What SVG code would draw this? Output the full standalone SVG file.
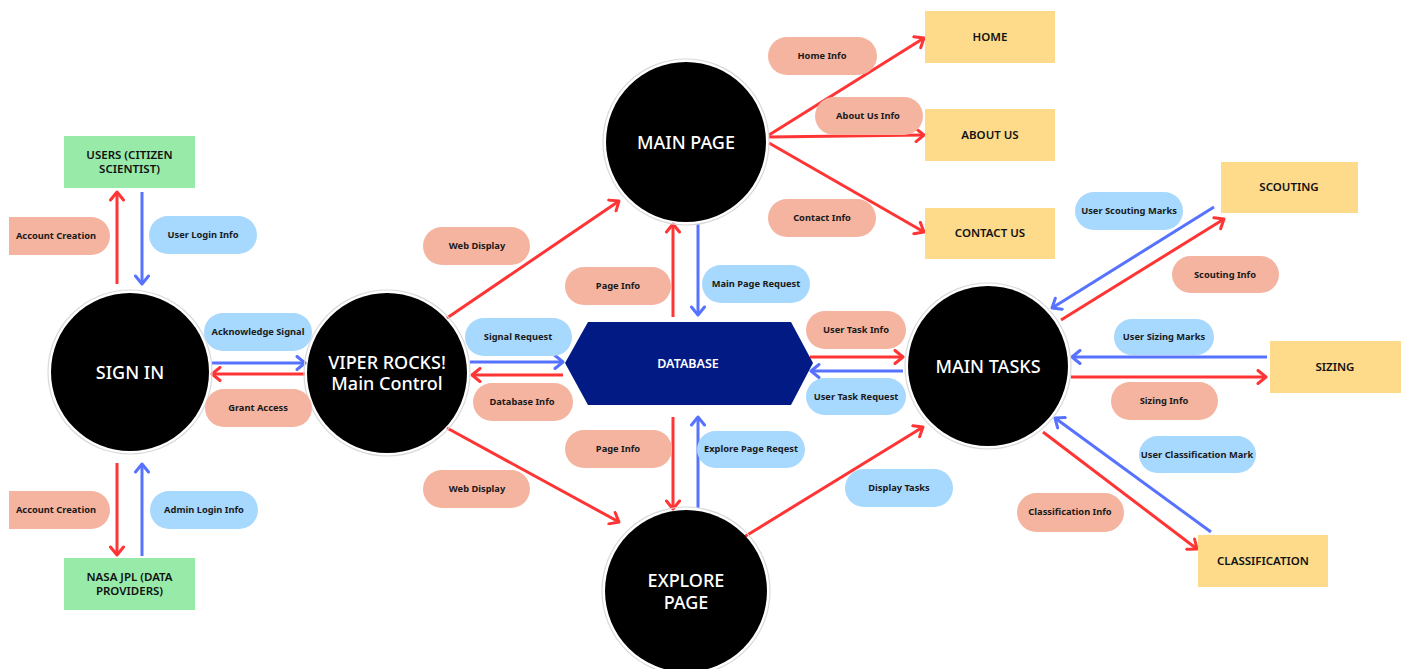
<svg xmlns="http://www.w3.org/2000/svg" width="1405" height="669" viewBox="0 0 1405 669">
<style>
.bg{fill:#ffffff}
.circ{fill:#000000}
.ring{fill:none;stroke:#d9d9d9;stroke-width:1.2}
.ctext{font-family:"Noto Sans","Open Sans",sans-serif;font-size:18px;font-weight:500;fill:#ffffff;text-anchor:middle}
.green{fill:#98eaa8}
.yellow{fill:#fedb8b}
.rtext{font-family:"Noto Sans","Open Sans",sans-serif;font-size:11.5px;font-weight:600;fill:#111111;text-anchor:middle}
.salmon{fill:#f4b4a0}
.lblue{fill:#a7d8fe}
.ptext{font-family:"Noto Sans","Open Sans",sans-serif;font-size:9.3px;font-weight:700;fill:#1a1a1a;text-anchor:middle}
.red{stroke:#ff3434;stroke-width:3;fill:none;marker-end:url(#ahr)}
.blue{stroke:#5672ff;stroke-width:3;fill:none;marker-end:url(#ahb)}
.db{fill:#021a84}
.dbtext{font-family:"Noto Sans","Open Sans",sans-serif;font-size:12.5px;font-weight:600;fill:#ffffff;text-anchor:middle}
</style>
<defs>
<marker id="ahr" markerUnits="userSpaceOnUse" markerWidth="16" markerHeight="16" refX="10" refY="8" orient="auto">
<path d="M2,1.5 L10,8 L2,14.5" fill="none" stroke="#ff3434" stroke-width="3" stroke-linecap="round" stroke-linejoin="round"/>
</marker>
<marker id="ahb" markerUnits="userSpaceOnUse" markerWidth="16" markerHeight="16" refX="10" refY="8" orient="auto">
<path d="M2,1.5 L10,8 L2,14.5" fill="none" stroke="#5672ff" stroke-width="3" stroke-linecap="round" stroke-linejoin="round"/>
</marker>
<clipPath id="leftclip"><rect x="9" y="0" width="1396" height="669"/></clipPath>
</defs>
<rect class="bg" x="0" y="0" width="1405" height="669"/>

<g id="connectors">
<line class="red" x1="117" y1="284" x2="117" y2="192"/>
<line class="blue" x1="142" y1="192" x2="142" y2="284"/>
<line class="red" x1="117" y1="463" x2="117" y2="555"/>
<line class="blue" x1="142" y1="556" x2="142" y2="464"/>
<line class="blue" x1="212" y1="363" x2="305" y2="363"/>
<line class="red" x1="305" y1="374" x2="212" y2="374"/>
<line class="red" x1="447" y1="318" x2="619" y2="201"/>
<line class="red" x1="447" y1="428" x2="619" y2="522"/>
<line class="blue" x1="470" y1="362" x2="563" y2="362"/>
<line class="red" x1="563" y1="375" x2="472" y2="375"/>
<line class="red" x1="673" y1="317" x2="673" y2="224"/>
<line class="blue" x1="698" y1="224" x2="698" y2="315"/>
<line class="red" x1="673" y1="417" x2="673" y2="509"/>
<line class="blue" x1="698" y1="508" x2="698" y2="417"/>
<line class="red" x1="810" y1="357" x2="903" y2="357"/>
<line class="blue" x1="903" y1="371" x2="811" y2="371"/>
<line class="red" x1="744" y1="537" x2="923" y2="427"/>
<line class="red" x1="769" y1="135" x2="924" y2="38"/>
<line class="red" x1="769" y1="137" x2="924" y2="135"/>
<line class="red" x1="769" y1="143" x2="924" y2="232"/>
<line class="blue" x1="1214" y1="207" x2="1052" y2="308"/>
<line class="red" x1="1061" y1="320" x2="1224" y2="219"/>
<line class="blue" x1="1267" y1="357" x2="1072" y2="357"/>
<line class="red" x1="1071" y1="377" x2="1266" y2="377"/>
<line class="blue" x1="1211" y1="532" x2="1055" y2="418"/>
<line class="red" x1="1043" y1="432" x2="1197" y2="549"/>
</g>

<g id="n-signin">
<circle class="ring" cx="130" cy="372" r="82"/>
<circle class="circ" cx="130" cy="372" r="79"/>
<text class="ctext" x="130" y="378.5">SIGN IN</text>
</g>
<g id="n-viper">
<circle class="ring" cx="387" cy="373" r="83"/>
<circle class="circ" cx="387" cy="373" r="80"/>
<text class="ctext" x="387" y="368.5">VIPER ROCKS!</text>
<text class="ctext" x="387" y="390">Main Control</text>
</g>
<g id="n-mainpage">
<circle class="ring" cx="686" cy="142" r="83"/>
<circle class="circ" cx="686" cy="142" r="80"/>
<text class="ctext" x="686" y="148.5">MAIN PAGE</text>
</g>
<g id="n-explore">
<circle class="ring" cx="686" cy="591" r="84"/>
<circle class="circ" cx="686" cy="591" r="81"/>
<text class="ctext" x="686" y="586.5">EXPLORE</text>
<text class="ctext" x="686" y="608.5">PAGE</text>
</g>
<g id="n-maintasks">
<circle class="ring" cx="988" cy="366" r="83"/>
<circle class="circ" cx="988" cy="366" r="80"/>
<text class="ctext" x="988" y="372.5">MAIN TASKS</text>
</g>
<g id="n-database">
<polygon class="db" points="565,363 588,322 791,322 813,363 791,405 588,405"/>
<text class="dbtext" x="688" y="367.5">DATABASE</text>
</g>

<g id="n-users">
<rect class="green" x="64" y="136" width="131" height="52"/>
<text class="rtext" x="129.5" y="159">USERS (CITIZEN</text>
<text class="rtext" x="129.5" y="173">SCIENTIST)</text>
</g>
<g id="n-nasa">
<rect class="green" x="64" y="558" width="131" height="52"/>
<text class="rtext" x="129.5" y="581">NASA JPL (DATA</text>
<text class="rtext" x="129.5" y="595">PROVIDERS)</text>
</g>
<g id="n-home">
<rect class="yellow" x="925" y="11" width="130" height="52"/>
<text class="rtext" x="990" y="41">HOME</text>
</g>
<g id="n-aboutus">
<rect class="yellow" x="925" y="109" width="130" height="52"/>
<text class="rtext" x="990" y="139">ABOUT US</text>
</g>
<g id="n-contactus">
<rect class="yellow" x="925" y="208" width="130" height="51"/>
<text class="rtext" x="990" y="237">CONTACT US</text>
</g>
<g id="n-scouting">
<rect class="yellow" x="1221" y="162" width="137" height="51"/>
<text class="rtext" x="1289" y="191">SCOUTING</text>
</g>
<g id="n-sizing">
<rect class="yellow" x="1270" y="341" width="131" height="52"/>
<text class="rtext" x="1335" y="371">SIZING</text>
</g>
<g id="n-classification">
<rect class="yellow" x="1198" y="535" width="130" height="52"/>
<text class="rtext" x="1263" y="565">CLASSIFICATION</text>
</g>

<g id="labels">
<g id="l-acct1"><rect class="salmon" x="-10" y="217" width="120" height="38" rx="19" clip-path="url(#leftclip)"/><text class="ptext" x="56" y="239.4">Account Creation</text></g>
<g id="l-userlogin"><rect class="lblue" x="149" y="216" width="108" height="38" rx="19"/><text class="ptext" x="203" y="238.4">User Login Info</text></g>
<g id="l-ack"><rect class="lblue" x="204" y="313" width="108" height="38" rx="19"/><text class="ptext" x="258" y="335.4">Acknowledge Signal</text></g>
<g id="l-grant"><rect class="salmon" x="205" y="389" width="107" height="38" rx="19"/><text class="ptext" x="258" y="411.4">Grant Access</text></g>
<g id="l-acct2"><rect class="salmon" x="-10" y="491" width="120" height="38" rx="19" clip-path="url(#leftclip)"/><text class="ptext" x="56" y="513.4">Account Creation</text></g>
<g id="l-adminlogin"><rect class="lblue" x="150" y="491" width="108" height="38" rx="19"/><text class="ptext" x="204" y="513.4">Admin Login Info</text></g>
<g id="l-web1"><rect class="salmon" x="423" y="227" width="107" height="38" rx="19"/><text class="ptext" x="477" y="249.4">Web Display</text></g>
<g id="l-signalreq"><rect class="lblue" x="465" y="318" width="107" height="38" rx="19"/><text class="ptext" x="518" y="340.4">Signal Request</text></g>
<g id="l-dbinfo"><rect class="salmon" x="473" y="383" width="100" height="38" rx="19"/><text class="ptext" x="522" y="405.4">Database Info</text></g>
<g id="l-web2"><rect class="salmon" x="423" y="470" width="107" height="38" rx="19"/><text class="ptext" x="477" y="492.4">Web Display</text></g>
<g id="l-pageinfo1"><rect class="salmon" x="565" y="267" width="106" height="38" rx="19"/><text class="ptext" x="618" y="289.4">Page Info</text></g>
<g id="l-mainpagereq"><rect class="lblue" x="702" y="265" width="108" height="38" rx="19"/><text class="ptext" x="756" y="287.4">Main Page Request</text></g>
<g id="l-pageinfo2"><rect class="salmon" x="565" y="430" width="107" height="38" rx="19"/><text class="ptext" x="618" y="452.4">Page Info</text></g>
<g id="l-explorereq"><rect class="lblue" x="697" y="431" width="108" height="37" rx="18.5"/><text class="ptext" x="751" y="452.4">Explore Page Reqest</text></g>
<g id="l-displaytasks"><rect class="lblue" x="845" y="469" width="108" height="38" rx="19"/><text class="ptext" x="899" y="491.4">Display Tasks</text></g>
<g id="l-usertaskinfo"><rect class="salmon" x="806" y="311" width="100" height="38" rx="19"/><text class="ptext" x="856" y="333.4">User Task Info</text></g>
<g id="l-usertaskreq"><rect class="lblue" x="806" y="378" width="100" height="37" rx="18.5"/><text class="ptext" x="856" y="399.9">User Task Request</text></g>
<g id="l-homeinfo"><rect class="salmon" x="768" y="37" width="109" height="38" rx="19"/><text class="ptext" x="822" y="59.4">Home Info</text></g>
<g id="l-aboutinfo"><rect class="salmon" x="815" y="97" width="108" height="38" rx="19"/><text class="ptext" x="868" y="119.4">About Us Info</text></g>
<g id="l-contactinfo"><rect class="salmon" x="768" y="199" width="108" height="38" rx="19"/><text class="ptext" x="822" y="221.4">Contact Info</text></g>
<g id="l-scoutmarks"><rect class="lblue" x="1075" y="192" width="108" height="38" rx="19"/><text class="ptext" x="1129" y="214.4">User Scouting Marks</text></g>
<g id="l-scoutinfo"><rect class="salmon" x="1172" y="256" width="107" height="37" rx="18.5"/><text class="ptext" x="1225" y="277.9">Scouting Info</text></g>
<g id="l-sizemarks"><rect class="lblue" x="1114" y="319" width="100" height="36" rx="18"/><text class="ptext" x="1164" y="340.4">User Sizing Marks</text></g>
<g id="l-sizeinfo"><rect class="salmon" x="1111" y="382" width="107" height="38" rx="19"/><text class="ptext" x="1164" y="404.4">Sizing Info</text></g>
<g id="l-classmark"><rect class="lblue" x="1139" y="436" width="117" height="37" rx="18.5"/><text class="ptext" x="1197" y="457.9">User Classification Mark</text></g>
<g id="l-classinfo"><rect class="salmon" x="1017" y="493" width="107" height="39" rx="19.5"/><text class="ptext" x="1070" y="515.4">Classification Info</text></g>
</g>
</svg>
